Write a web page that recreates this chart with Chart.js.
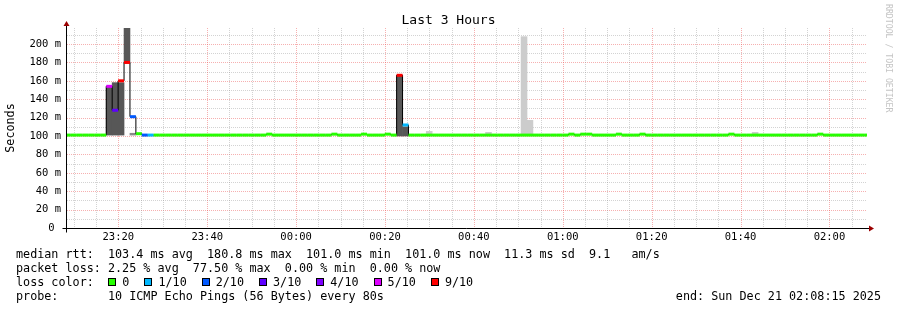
<!DOCTYPE html>
<html>
<head>
<meta charset="utf-8">
<title>Last 3 Hours</title>
<script src="https://cdn.jsdelivr.net/npm/chart.js@4.4.0/dist/chart.umd.min.js"></script>
<style>
  body { margin: 0; background: #fff; }
  #wrap { position: relative; width: 897px; height: 310px; overflow: hidden; background: #fff; }
  #wrap canvas { position: absolute; left: 0; top: 0; }
  #legend { position: absolute; left: 16px; top: 246.8px; width: 865px;
            font: 11.75px 'DejaVu Sans Mono', monospace; line-height: 14px; color: #000; white-space: pre; }
  #legend div { height: 14px; position: relative; }
  .sw { display: inline-block; width: 6px; height: 6px; border: 1px solid #000; margin-right: 6px; vertical-align: -0.5px; }
  .end { position: absolute; right: 0; top: 0; }
</style>
</head>
<body>
<div id="wrap">
  <canvas id="smokeChart" width="897" height="310"></canvas>
  <div id="legend"></div>
</div>
<script>
const _ = null;

// time axis
const startTime = '23:08:27';
const spanSeconds = 3 * 3600;
const firstStepStart = '23:07:57';
const stepSeconds = 80;

// median rtt per 80s step (ms)
const median = [
  101, 101, 101, 101, 101, 101, 101, 154, 128, 160,
  180, 121, 102.5, 101, 101, 101, 101, 101, 101, 101,
  101, 101, 101, 101, 101, 101, 101, 101, 101, 101,
  101, 101, 101, 101, 102, 101, 101, 101, 101, 101,
  101, 101, 101, 101, 101, 102, 101, 101, 101, 101,
  102, 101, 101, 101, 102, 101, 166, 112, 101, 101,
  101, 101, 101, 101, 101, 101, 101, 101, 101, 101,
  101, 101, 101, 101, 101, 101, 101, 101, 101, 101,
  101, 101, 101, 101, 101, 102, 101, 102, 102, 101,
  101, 101, 101, 102, 101, 101, 101, 102, 101, 101,
  101, 101, 101, 101, 101, 101, 101, 101, 101, 101,
  101, 101, 102, 101, 101, 101, 101, 101, 101, 101,
  101, 101, 101, 101, 101, 101, 101, 102, 101, 101,
  101, 101, 101, 101, 101, 101
];

// lost pings out of 10 per step
const lossCount = [
  0, 0, 0, 0, 0, 0, 0, 5, 3, 7,
  8, 2, 0, 2, 1, 0, 0, 0, 0, 0,
  0, 0, 0, 0, 0, 0, 0, 0, 0, 0,
  0, 0, 0, 0, 0, 0, 0, 0, 0, 0,
  0, 0, 0, 0, 0, 0, 0, 0, 0, 0,
  0, 0, 0, 0, 0, 0, 7, 1, 0, 0,
  0, 0, 0, 0, 0, 0, 0, 0, 0, 0,
  0, 0, 0, 0, 0, 0, 0, 0, 0, 0,
  0, 0, 0, 0, 0, 0, 0, 0, 0, 0,
  0, 0, 0, 0, 0, 0, 0, 0, 0, 0,
  0, 0, 0, 0, 0, 0, 0, 0, 0, 0,
  0, 0, 0, 0, 0, 0, 0, 0, 0, 0,
  0, 0, 0, 0, 0, 0, 0, 0, 0, 0,
  0, 0, 0, 0, 0, 0
];

// smoke (ping spread) per step, [low, high] ms
const smokeDark = [
  _, _, _, _, _, _, _, [101, 154], [101, 158], [101, 158],
  [179, 218], _, _, _, _, _, _, _, _, _,
  _, _, _, _, _, _, _, _, _, _,
  _, _, _, _, _, _, _, _, _, _,
  _, _, _, _, _, _, _, _, _, _,
  _, _, _, _, _, _, [100, 166], [100, 110], _, _,
  _, _, _, _, _, _, _, _, _, _,
  _, _, _, _, _, _, _, _, _, _,
  _, _, _, _, _, _, _, _, _, _,
  _, _, _, _, _, _, _, _, _, _,
  _, _, _, _, _, _, _, _, _, _,
  _, _, _, _, _, _, _, _, _, _,
  _, _, _, _, _, _, _, _, _, _,
  _, _, _, _, _, _
];
const smokeMid = [
  _, _, _, _, _, _, _, _, _, _,
  _, [101, 103], _, _, _, _, _, _, _, _,
  _, _, _, _, _, _, _, _, _, _,
  _, _, _, _, _, _, _, _, _, _,
  _, _, _, _, _, _, _, _, _, _,
  _, _, _, _, _, _, _, _, _, _,
  _, _, _, _, _, _, _, _, _, _,
  _, _, _, _, _, _, _, _, _, _,
  _, _, _, _, _, _, _, _, _, _,
  _, _, _, _, _, _, _, _, _, _,
  _, _, _, _, _, _, _, _, _, _,
  _, _, _, _, _, _, _, _, _, _,
  _, _, _, _, _, _, _, _, _, _,
  _, _, _, _, _, _
];
const smokeLight = [
  _, _, _, _, _, _, _, _, _, _,
  _, _, _, _, _, _, _, _, _, _,
  _, _, _, _, _, _, _, _, _, _,
  _, _, _, _, _, _, _, _, _, _,
  _, _, _, _, _, _, _, _, _, _,
  _, _, _, _, _, _, _, _, _, _,
  _, [101, 105], _, _, _, _, _, _, _, _,
  _, [101, 104], _, _, _, _, _, [101, 208], [101, 117], _,
  _, _, _, _, _, _, _, _, _, _,
  _, _, _, _, _, _, _, _, _, _,
  _, _, _, _, _, _, _, _, _, _,
  _, _, _, _, _, _, [101, 104], _, _, _,
  _, _, _, _, _, _, _, _, _, _,
  _, _, _, _, _, _
];

// axes
const xTickLabels = ['23:20', '23:40', '00:00', '00:20', '00:40', '01:00', '01:20', '01:40', '02:00'];
const yTickValues = [0, 20, 40, 60, 80, 100, 120, 140, 160, 180, 200];
const yTickLabels = ['0 ', '20 m', '40 m', '60 m', '80 m', '100 m', '120 m', '140 m', '160 m', '180 m', '200 m'];
const yMax = 217.4;

// legend
const lossLabels = ['0', '1/10', '2/10', '3/10', '4/10', '5/10', '9/10'];
const lossColors = ['#26ff00', '#00b8ff', '#0059ff', '#5e00ff', '#7e00ff', '#dd00ff', '#ff0000'];
const statLines = [
  'median rtt:  103.4 ms avg  180.8 ms max  101.0 ms min  101.0 ms now  11.3 ms sd  9.1   am/s',
  'packet loss: 2.25 % avg  77.50 % max  0.00 % min  0.00 % now'
];
const probeLine = 'probe:       10 ICMP Echo Pings (56 Bytes) every 80s';
const endLine = 'end: Sun Dec 21 02:08:15 2025';

const FONT = "'DejaVu Sans Mono'";

function clockSec(hms) {
  const p = hms.split(':').map(Number);
  return p[0] * 3600 + p[1] * 60 + (p[2] || 0);
}
function rel(hms) {
  let t = clockSec(hms) - clockSec(startTime);
  if (t < -43200) t += 86400;
  return t;
}
const stepStart = i => rel(firstStepStart) + i * stepSeconds;
const lossColor = n => lossColors[Math.min(n, lossColors.length - 1)];

const medianMarks = [];
median.forEach((m, i) => {
  const s = stepStart(i);
  medianMarks.push({ x: s, y: m }, { x: s + stepSeconds, y: m }, { x: s + stepSeconds, y: null });
});
const medianSteps = median.map((m, i) => ({ x: stepStart(i), y: m }));
medianSteps.push({ x: stepStart(median.length), y: median[median.length - 1] });

const smokeBars = arr => arr
  .map((v, i) => v && { x: stepStart(i) + stepSeconds / 2, y: v })
  .filter(Boolean);

function smokeSet(arr, color) {
  return {
    type: 'bar',
    data: smokeBars(arr),
    backgroundColor: color,
    borderWidth: 0,
    barPercentage: 1,
    categoryPercentage: 1,
    grouped: false,
    order: 3
  };
}

// rrdtool style grid, axes, arrows and titles
const rrdDecor = {
  id: 'rrdDecor',
  beforeDatasetsDraw(chart) {
    const { ctx, chartArea: a, scales: { x, y } } = chart;
    ctx.save();
    ctx.lineWidth = 1;
    ctx.setLineDash([1, 1]);
    for (let v = 10; v <= yMax; v += 10) {
      const py = Math.round(y.getPixelForValue(v)) + 0.5;
      ctx.strokeStyle = v % 20 === 0 ? 'rgba(235,80,80,0.45)' : 'rgba(140,140,140,0.38)';
      ctx.beginPath(); ctx.moveTo(a.left, py); ctx.lineTo(a.right, py); ctx.stroke();
    }
    const major0 = rel(xTickLabels[0]);
    for (let k = -4; k < 40; k++) {
      const t = major0 + k * 300;
      if (t <= 0 || t >= spanSeconds) continue;
      const px = Math.round(x.getPixelForValue(t)) + 0.5;
      ctx.strokeStyle = k % 4 === 0 ? 'rgba(235,80,80,0.45)' : 'rgba(140,140,140,0.38)';
      ctx.beginPath(); ctx.moveTo(px, a.top); ctx.lineTo(px, a.bottom); ctx.stroke();
    }
    ctx.restore();
  },
  afterDatasetsDraw(chart) {
    const { ctx, chartArea: a } = chart;
    const ox = a.left - 0.5, oy = a.bottom + 0.5;
    ctx.save();
    ctx.strokeStyle = '#000';
    ctx.lineWidth = 1;
    ctx.beginPath();
    ctx.moveTo(ox - 4, oy); ctx.lineTo(a.right + 4, oy);
    ctx.moveTo(ox, oy + 4); ctx.lineTo(ox, a.top - 4);
    ctx.stroke();
    ctx.fillStyle = '#9b0000';
    ctx.beginPath();
    ctx.moveTo(a.right + 2, oy - 3); ctx.lineTo(a.right + 2, oy + 3); ctx.lineTo(a.right + 7, oy);
    ctx.closePath(); ctx.fill();
    ctx.beginPath();
    ctx.moveTo(ox - 3, a.top - 2); ctx.lineTo(ox + 3, a.top - 2); ctx.lineTo(ox, a.top - 7);
    ctx.closePath(); ctx.fill();
    ctx.restore();
  },
  afterDraw(chart) {
    const { ctx, chartArea: a } = chart;
    ctx.save();
    ctx.fillStyle = '#000';
    ctx.textAlign = 'center';
    ctx.textBaseline = 'middle';
    ctx.font = '13px ' + FONT;
    ctx.fillText('Last 3 Hours', chart.width / 2, 20.5);

    ctx.font = '11.75px ' + FONT;
    ctx.translate(11, (a.top + a.bottom) / 2);
    ctx.rotate(-Math.PI / 2);
    ctx.fillText('Seconds', 0, 0);
    ctx.restore();

    ctx.save();
    ctx.fillStyle = '#c4c4c4';
    ctx.font = '8.2px ' + FONT;
    ctx.textAlign = 'left';
    ctx.textBaseline = 'middle';
    ctx.translate(888, 4);
    ctx.rotate(Math.PI / 2);
    ctx.fillText('RRDTOOL / TOBI OETIKER', 0, 0);
    ctx.restore();
  }
};

const chart = new Chart(document.getElementById('smokeChart').getContext('2d'), {
  type: 'line',
  data: {
    datasets: [
      {
        data: medianMarks,
        borderColor: lossColors[0],
        borderWidth: 3,
        borderCapStyle: 'butt',
        pointRadius: 0,
        spanGaps: false,
        fill: false,
        segment: {
          borderColor: c => lossColor(lossCount[Math.floor(c.p0DataIndex / 3)])
        },
        order: 0
      },
      {
        data: medianSteps,
        borderColor: '#000',
        borderWidth: 1,
        stepped: 'before',
        pointRadius: 0,
        fill: false,
        order: 1
      },
      smokeSet(smokeDark, '#575757'),
      smokeSet(smokeMid, '#8a8a8a'),
      smokeSet(smokeLight, '#cccccc')
    ]
  },
  options: {
    responsive: false,
    animation: false,
    devicePixelRatio: 1,
    events: [],
    layout: { padding: { left: 0, right: 30, top: 28, bottom: 62 } },
    plugins: {
      legend: { display: false },
      tooltip: { enabled: false },
      title: { display: false }
    },
    scales: {
      x: {
        type: 'linear',
        min: 0,
        max: spanSeconds,
        offset: false,
        afterFit: s => { s.height = 20; },
        afterBuildTicks: s => { s.ticks = xTickLabels.map(l => ({ value: rel(l) })); },
        ticks: {
          autoSkip: false,
          maxRotation: 0,
          padding: 3,
          color: '#000',
          font: { family: FONT, size: 10.5 },
          callback: (v, i) => xTickLabels[i]
        },
        grid: { display: false, drawTicks: false },
        border: { display: false }
      },
      y: {
        type: 'linear',
        min: 0,
        max: yMax,
        afterFit: s => { s.width = 67; },
        afterBuildTicks: s => { s.ticks = yTickValues.map(v => ({ value: v })); },
        ticks: {
          autoSkip: false,
          padding: 6,
          color: '#000',
          font: { family: FONT, size: 10.5 },
          callback: (v, i) => yTickLabels[i]
        },
        grid: { display: false, drawTicks: false },
        border: { display: false }
      }
    }
  },
  plugins: [rrdDecor]
});

// text legend under the graph
const legend = document.getElementById('legend');
statLines.forEach(t => {
  const d = document.createElement('div');
  d.textContent = t;
  legend.appendChild(d);
});
const colorRow = document.createElement('div');
colorRow.appendChild(document.createTextNode('loss color:'));
lossLabels.forEach((lab, i) => {
  const sw = document.createElement('span');
  sw.className = 'sw';
  sw.style.background = lossColors[i];
  sw.style.marginLeft = i === 0 ? '14.5px' : '15px';
  colorRow.appendChild(sw);
  colorRow.appendChild(document.createTextNode(lab));
});
legend.appendChild(colorRow);
const probeRow = document.createElement('div');
probeRow.textContent = probeLine;
const endSpan = document.createElement('span');
endSpan.className = 'end';
endSpan.textContent = endLine;
probeRow.appendChild(endSpan);
legend.appendChild(probeRow);
</script>
</body>
</html>
